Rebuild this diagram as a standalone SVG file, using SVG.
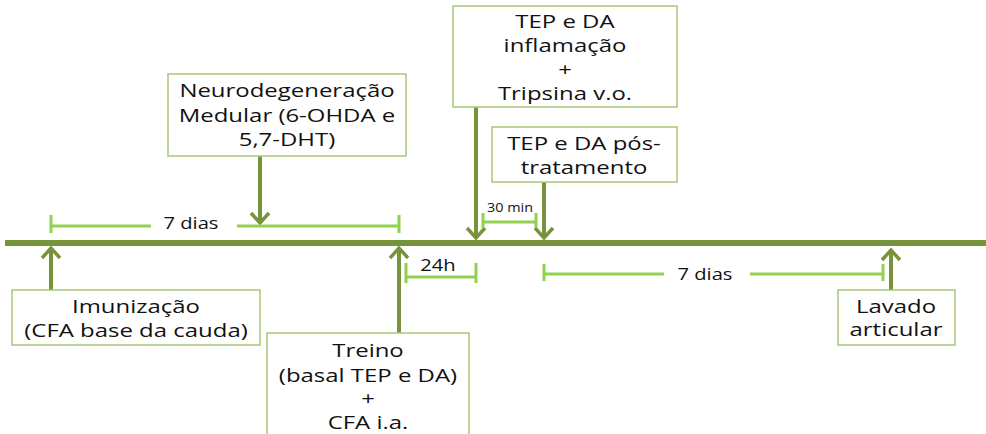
<svg xmlns="http://www.w3.org/2000/svg" width="986" height="434" viewBox="0 0 986 434">
<defs>
<style>
.box{fill:#fff;stroke:#A9C77A;stroke-width:1.5}
text{font-family:"Open Sans","DejaVu Sans",sans-serif;fill:#111;text-anchor:middle}
.t{font-size:19px}
.s{font-size:16px}
.xs{font-size:12px}
.arr{stroke:#77933C;stroke-width:4;fill:none}
.head{stroke:#77933C;stroke-width:3.5;fill:none;stroke-linecap:butt;stroke-linejoin:miter}
.br{stroke:#92D050;stroke-width:3;fill:none}
</style>
</defs>
<rect width="986" height="434" fill="#fff"/>
<g id="connectors">
<line x1="5" y1="243" x2="986" y2="243" stroke="#77933C" stroke-width="6"/>
<line class="arr" x1="51" y1="290" x2="51" y2="248"/>
<polyline class="head" points="42,258 51,248 60,258"/>
<line class="arr" x1="260" y1="156" x2="260" y2="222"/>
<polyline class="head" points="251,213 260,223 269,213"/>
<line class="arr" x1="399" y1="333" x2="399" y2="248"/>
<polyline class="head" points="390,258 399,248 408,258"/>
<line class="arr" x1="476" y1="107" x2="476" y2="236"/>
<polyline class="head" points="467,228 476,238 485,228"/>
<line class="arr" x1="544" y1="182" x2="544" y2="236"/>
<polyline class="head" points="535,228 544,238 553,228"/>
<line class="arr" x1="891" y1="290" x2="891" y2="250"/>
<polyline class="head" points="882,260 891,250 900,260"/>
<path class="br" d="M51,226H151M237,226H399M51,215V233M399,215V233"/>
<path class="br" d="M406,277H476M406,263V283M476,263V283"/>
<path class="br" d="M483,222H536M483,213V228M536,213V228"/>
<path class="br" d="M544,274H664M750,274H883M544,264V281M883,264V281"/>
<text class="s" transform="translate(191,229) scale(1.26,1)">7 dias</text>
<text class="s" transform="translate(438,271) scale(1.26,1)">24h</text>
<text class="xs" transform="translate(510,212) scale(1.2,1)">30 min</text>
<text class="s" transform="translate(705,280) scale(1.26,1)">7 dias</text>
</g>
<g id="neuro">
<rect class="box" x="168" y="74" width="238" height="82"/>
<text class="t" transform="translate(287,97) scale(1.26,1)">Neurodegeneração</text>
<text class="t" transform="translate(287,122) scale(1.26,1)">Medular (6-OHDA e</text>
<text class="t" transform="translate(287,146) scale(1.26,1)">5,7-DHT)</text>
</g>
<g id="inflamacao">
<rect class="box" x="453" y="6" width="224" height="101"/>
<text class="t" transform="translate(565,28) scale(1.26,1)">TEP e DA</text>
<text class="t" transform="translate(565,52) scale(1.26,1)">inflamação</text>
<text class="t" transform="translate(565,76) scale(1.26,1)">+</text>
<text class="t" transform="translate(565,100) scale(1.26,1)">Tripsina v.o.</text>
</g>
<g id="pos">
<rect class="box" x="492" y="127" width="185" height="55"/>
<text class="t" transform="translate(584,150) scale(1.26,1)">TEP e DA pós-</text>
<text class="t" transform="translate(584,174) scale(1.26,1)">tratamento</text>
</g>
<g id="imunizacao">
<rect class="box" x="12" y="290" width="248" height="55"/>
<text class="t" transform="translate(136,313) scale(1.26,1)">Imunização</text>
<text class="t" transform="translate(136,337) scale(1.26,1)">(CFA base da cauda)</text>
</g>
<g id="treino">
<rect class="box" x="267" y="333" width="202" height="110"/>
<text class="t" transform="translate(368,357) scale(1.26,1)">Treino</text>
<text class="t" transform="translate(368,382) scale(1.26,1)">(basal TEP e DA)</text>
<text class="t" transform="translate(368,405) scale(1.26,1)">+</text>
<text class="t" transform="translate(368,429) scale(1.26,1)">CFA i.a.</text>
</g>
<g id="lavado">
<rect class="box" x="838" y="290" width="117" height="55"/>
<text class="t" transform="translate(896,313) scale(1.26,1)">Lavado</text>
<text class="t" transform="translate(896,336) scale(1.26,1)">articular</text>
</g>
</svg>
